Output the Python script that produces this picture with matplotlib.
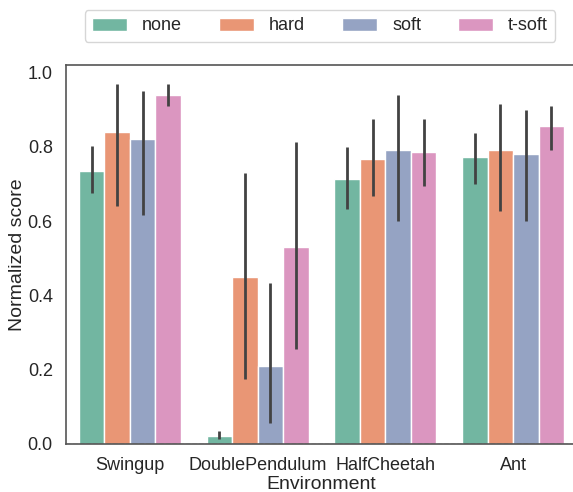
import matplotlib
matplotlib.use("Agg")
import matplotlib.pyplot as plt
import seaborn as sns
import numpy as np

sns.set_theme(style="white")
plt.rcParams['font.family'] = ['Liberation Sans', 'DejaVu Sans']

envs = ['Swingup', 'DoublePendulum', 'HalfCheetah', 'Ant']
methods = ['none', 'hard', 'soft', 't-soft']

# mean normalized score per method, one value per environment
scores = {
    'none':   [0.734, 0.022, 0.714, 0.772],
    'hard':   [0.840, 0.449, 0.768, 0.792],
    'soft':   [0.820, 0.211, 0.792, 0.781],
    't-soft': [0.940, 0.529, 0.786, 0.856],
}
ci_low = {
    'none':   [0.676, 0.013, 0.633, 0.700],
    'hard':   [0.640, 0.175, 0.668, 0.628],
    'soft':   [0.616, 0.057, 0.600, 0.599],
    't-soft': [0.911, 0.256, 0.694, 0.791],
}
ci_high = {
    'none':   [0.801, 0.035, 0.799, 0.838],
    'hard':   [0.970, 0.728, 0.875, 0.915],
    'soft':   [0.950, 0.434, 0.938, 0.900],
    't-soft': [0.970, 0.813, 0.875, 0.911],
}

colors = sns.color_palette('Set2', 4, desat=0.75)

fig = plt.figure(figsize=(5.73, 4.92), dpi=100)
ax = fig.add_axes([66 / 573, 48 / 492, 511 / 573, 379 / 492])

x = np.arange(len(envs))
width = 0.8 / len(methods)
for i, m in enumerate(methods):
    pos = x - 0.4 + width * (i + 0.5)
    vals = np.array(scores[m])
    ax.bar(pos, vals, width, color=colors[i], edgecolor='white', linewidth=1, label=m)
    ax.vlines(pos, ci_low[m], ci_high[m], color='.26', linewidth=2.0, zorder=3)

ax.axhline(0, color='#333333', ls='--', lw=0.9)
ax.set_xlim(-0.5, 3.5)
ax.set_ylim(0, 1.02)
ax.set_xticks(x)
ax.set_xticklabels(envs, fontsize=13)
ax.set_yticks([0.0, 0.2, 0.4, 0.6, 0.8, 1.0])
ax.tick_params(axis='y', labelsize=13)
ax.set_xlabel('Environment', fontsize=14, labelpad=1)
ax.set_ylabel('Normalized score', fontsize=14, labelpad=1)
for s in ax.spines.values():
    s.set_color('#555555')
    s.set_linewidth(1.2)

fig.legend(loc='center', bbox_to_anchor=(320 / 573, 1 - 26 / 492), ncol=4,
           fontsize=13, handlelength=1.94, handleheight=0.71, handletextpad=0.83,
           columnspacing=2.05, frameon=True)

fig.savefig('out.png', dpi=100)
